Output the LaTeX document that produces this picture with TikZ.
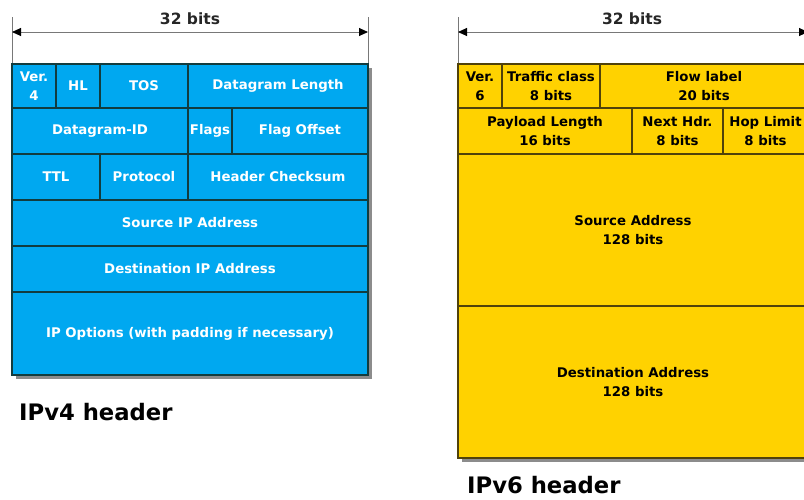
\documentclass[tikz,border=0pt]{standalone}
\usepackage{fontspec}
\setmainfont{DejaVu Sans}
\usetikzlibrary{arrows.meta}
\definecolor{vfourblue}{RGB}{0,168,240}
\definecolor{vfourline}{RGB}{18,60,62}
\definecolor{vsixyellow}{RGB}{255,210,0}
\definecolor{vsixline}{RGB}{80,66,10}
\definecolor{shadowgray}{RGB}{140,140,140}
\definecolor{dimgray}{RGB}{120,120,120}
\newcommand\hdrcell[7]{\node[#1, minimum width={(#4)-(#2)}, minimum height={(#5)-(#3)}] (#6) at ({((#2)+(#4))/2},{((#3)+(#5))/2}) {#7};}
\begin{document}
\begin{tikzpicture}[x=1pt,y=-1pt,
  cellbase/.style={rectangle, inner sep=0pt, outer sep=0pt, line width=1.2pt, align=center,
     font=\fontsize{13.3}{19}\selectfont\bfseries},
  cellfour/.style={cellbase, fill=vfourblue, draw=vfourline, text=white},
  cellsix/.style={cellbase, fill=vsixyellow, draw=vsixline, text=black},
  dimline/.style={draw=dimgray, line width=0.9pt, {Triangle[length=9pt,width=8pt,color=black]}-{Triangle[length=9pt,width=8pt,color=black]}},
  tickline/.style={draw=dimgray, line width=0.9pt},
  dimlabel/.style={font=\fontsize{15.5}{18}\selectfont\bfseries, text=black!85, inner sep=0pt},
  titlelabel/.style={font=\fontsize{22.7}{26}\selectfont\bfseries, text=black, inner sep=0pt, anchor=base west},
  shadowbox/.style={fill=shadowgray}
]
\useasboundingbox (0,0) rectangle (804,499);
\clip (0,0) rectangle (804,499);

% ---------- IPv4 ----------
\coordinate (f4tl) at (12,17);
\coordinate (f4bl) at (12,64);
\coordinate (f4tr) at (368,17);
\coordinate (f4br) at (368,64);
\coordinate (d4l) at (12,32);
\coordinate (d4r) at (368,32);
\draw[tickline] (f4tl) -- (f4bl);
\draw[tickline] (f4tr) -- (f4br);
\draw[dimline] (d4l) -- (d4r);
\node[dimlabel] (bits4) at (190,19) {32 bits};

\fill[shadowbox] (16,68) rectangle (372,379);

\hdrcell{cellfour}{12}{64}{56}{108}{ver4}{Ver.\\4}
\hdrcell{cellfour}{56}{64}{100}{108}{hl}{HL}
\hdrcell{cellfour}{100}{64}{188}{108}{tos}{TOS}
\hdrcell{cellfour}{188}{64}{368}{108}{dglen}{Datagram Length}
\hdrcell{cellfour}{12}{108}{188}{154}{dgid}{Datagram-ID}
\hdrcell{cellfour}{188}{108}{232}{154}{flags}{Flags}
\hdrcell{cellfour}{232}{108}{368}{154}{flagoff}{Flag Offset}
\hdrcell{cellfour}{12}{154}{100}{200}{ttl}{TTL}
\hdrcell{cellfour}{100}{154}{188}{200}{proto}{Protocol}
\hdrcell{cellfour}{188}{154}{368}{200}{hcs}{Header Checksum}
\hdrcell{cellfour}{12}{200}{368}{246}{srcip}{Source IP Address}
\hdrcell{cellfour}{12}{246}{368}{292}{dstip}{Destination IP Address}
\hdrcell{cellfour}{12}{292}{368}{375}{opts}{IP Options (with padding if necessary)}

\node[titlelabel] (title4) at (19,420) {IPv4 header};

% ---------- IPv6 ----------
\coordinate (f6tl) at (458,17);
\coordinate (f6bl) at (458,64);
\coordinate (f6tr) at (808,17);
\coordinate (f6br) at (808,64);
\coordinate (d6l) at (458,32);
\coordinate (d6r) at (808,32);
\draw[tickline] (f6tl) -- (f6bl);
\draw[tickline] (f6tr) -- (f6br);
\draw[dimline] (d6l) -- (d6r);
\node[dimlabel] (bits6) at (632,19) {32 bits};

\fill[shadowbox] (462,68) rectangle (812,462);

\hdrcell{cellsix}{458}{64}{502}{108}{ver6}{Ver.\\6}
\hdrcell{cellsix}{502}{64}{600}{108}{tclass}{Traffic class\\8 bits}
\hdrcell{cellsix}{600}{64}{808}{108}{flow}{Flow label\\20 bits}
\hdrcell{cellsix}{458}{108}{632}{154}{plen}{Payload Length\\16 bits}
\hdrcell{cellsix}{632}{108}{723}{154}{nhdr}{Next Hdr.\\8 bits}
\hdrcell{cellsix}{723}{108}{808}{154}{hop}{Hop Limit\\8 bits}
\hdrcell{cellsix}{458}{154}{808}{306}{src6}{Source Address\\128 bits}
\hdrcell{cellsix}{458}{306}{808}{458}{dst6}{Destination Address\\128 bits}

\node[titlelabel] (title6) at (467,493) {IPv6 header};
\end{tikzpicture}
\end{document}
